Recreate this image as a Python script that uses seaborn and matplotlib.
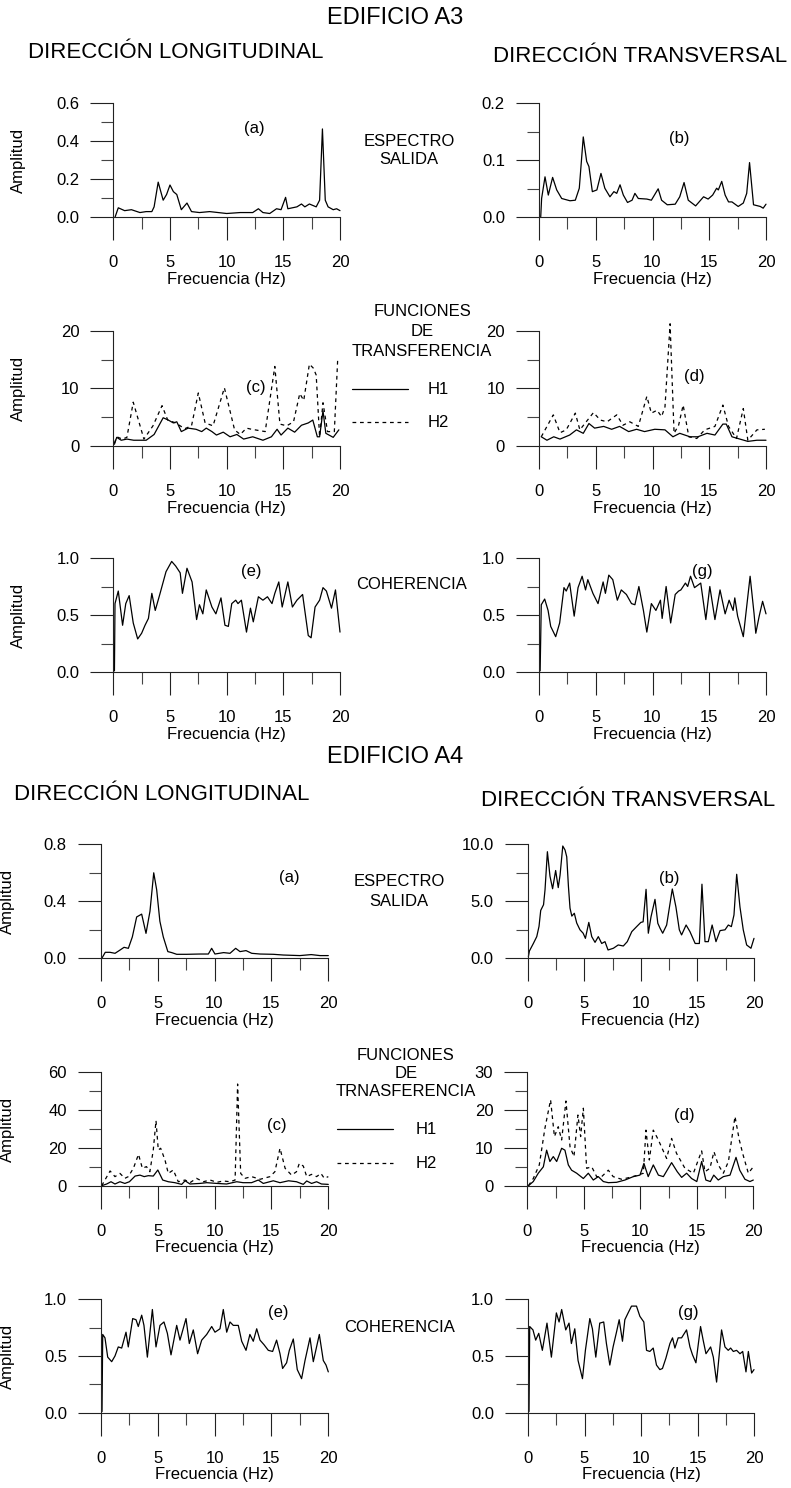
import matplotlib
matplotlib.use("Agg")
import matplotlib.pyplot as plt
from matplotlib.lines import Line2D
from matplotlib.ticker import MultipleLocator, FormatStrFormatter
import seaborn as sns
import pandas as pd

# ---------------- data (frequency Hz, amplitude) ----------------
a3_a = [(0.15,0.0),(0.44,0.05),(1.0,0.035),(1.6,0.04),(2.35,0.025),(2.9,0.03),(3.4,0.03),(3.6,0.055),
        (3.96,0.185),(4.4,0.09),(4.7,0.12),(5.0,0.17),(5.3,0.135),(5.6,0.12),(6.0,0.04),(6.5,0.075),
        (6.9,0.03),(7.6,0.025),(8.5,0.03),(10.0,0.02),(11.2,0.025),(12.3,0.025),(12.8,0.045),(13.2,0.025),
        (13.8,0.02),(14.4,0.045),(14.8,0.04),(15.2,0.105),(15.4,0.045),(16.2,0.055),(16.6,0.07),(16.9,0.055),
        (17.3,0.07),(17.9,0.055),(18.2,0.09),(18.45,0.465),(18.7,0.09),(18.95,0.055),(19.4,0.04),(19.7,0.045),
        (20.0,0.035)]
a3_b = [(0.15,0.0),(0.23,0.033),(0.53,0.071),(0.82,0.039),(1.2,0.07),(1.56,0.048),(2.0,0.033),(2.73,0.029),
        (3.2,0.03),(3.55,0.051),(3.9,0.141),(4.2,0.098),(4.4,0.089),(4.7,0.045),(5.1,0.048),(5.46,0.077),
        (5.8,0.051),(6.25,0.036),(6.6,0.045),(6.85,0.042),(7.14,0.057),(7.43,0.039),(7.8,0.026),(8.2,0.03),
        (8.45,0.042),(8.75,0.033),(9.5,0.032),(9.9,0.03),(10.5,0.05),(10.8,0.03),(11.3,0.022),(12.0,0.023),
        (12.4,0.036),(12.78,0.061),(13.15,0.03),(13.8,0.02),(14.5,0.036),(14.9,0.032),(15.3,0.039),(15.65,0.051),
        (15.8,0.048),(16.1,0.063),(16.4,0.039),(16.7,0.027),(17.0,0.027),(17.55,0.019),(18.0,0.025),(18.3,0.042),
        (18.55,0.096),(18.9,0.022),(19.5,0.019),(19.75,0.016),(20.0,0.023)]
a3_c_h1 = [(0.1,0.3),(0.3,1.5),(0.7,1.0),(1.2,1.2),(1.8,1.0),(2.9,1.0),(3.6,2.0),(4.4,4.9),(4.85,4.5),
           (5.3,4.0),(5.6,4.2),(6.0,2.5),(6.6,3.1),(7.3,2.9),(7.8,2.5),(8.2,3.1),(8.7,2.5),(9.1,1.9),
           (9.7,2.4),(10.3,1.6),(10.9,2.0),(11.5,1.2),(12.3,1.6),(13.2,1.0),(13.95,1.6),(14.45,2.9),
           (14.8,1.9),(15.4,3.1),(16.0,2.4),(16.6,3.6),(17.2,4.0),(17.6,4.5),(18.0,1.6),(18.2,1.6),
           (18.5,6.1),(18.75,2.2),(19.4,1.5),(19.9,2.8)]
a3_c_h2 = [(0.1,0.5),(0.3,1.6),(0.8,1.2),(1.2,1.5),(1.76,7.6),(2.7,1.2),(3.5,3.5),(4.3,7.0),(4.8,4.5),
           (5.5,4.0),(6.3,3.0),(6.9,3.5),(7.5,9.2),(8.1,4.0),(8.8,3.5),(9.8,10.1),(10.7,2.8),(11.2,2.0),
           (11.75,3.1),(12.2,2.9),(13.4,2.5),(14.25,13.8),(14.7,3.8),(15.3,3.5),(15.9,4.2),(16.45,9.1),
           (16.8,7.9),(17.3,14.2),(17.65,13.5),(17.9,12.3),(18.2,1.6),(18.5,7.5),(18.9,2.5),(19.5,2.5),
           (19.8,15.2)]
a3_d_h1 = [(0.2,1.6),(0.7,1.0),(1.3,1.6),(1.85,1.2),(2.7,1.9),(3.3,2.8),(3.9,2.2),(4.4,3.9),(4.9,3.1),
           (5.7,3.4),(6.4,2.9),(7.1,3.4),(7.9,2.5),(8.6,2.9),(9.3,2.5),(10.2,2.9),(11.1,2.8),(11.8,1.6),
           (12.4,2.2),(13.3,1.6),(14.0,1.6),(14.8,2.2),(15.5,1.9),(16.2,3.8),(16.5,3.8),(17.0,1.6),
           (17.7,1.2),(18.4,0.8),(19.2,1.0),(20.0,1.0)]
a3_d_h2 = [(0.2,1.6),(1.26,5.4),(1.85,2.3),(2.4,2.8),(3.2,5.7),(3.6,2.8),(4.8,5.8),(5.4,4.5),(6.0,4.2),
           (6.85,5.4),(7.4,3.6),(8.0,4.2),(8.75,3.4),(9.5,8.6),(9.9,5.7),(10.4,6.2),(10.8,5.1),(11.1,6.8),
           (11.55,21.2),(11.9,2.2),(12.3,3.6),(12.7,7.1),(13.2,1.6),(13.9,1.3),(14.6,2.8),(15.5,3.4),
           (16.2,7.1),(16.7,3.4),(17.4,1.3),(18.0,6.5),(18.4,1.0),(19.2,2.8),(19.9,2.9)]
a3_e = [(0.1,0.01),(0.15,0.6),(0.44,0.71),(0.82,0.41),(1.1,0.6),(1.4,0.67),(1.76,0.43),(2.15,0.29),
        (2.5,0.34),(2.8,0.41),(3.1,0.47),(3.4,0.69),(3.7,0.54),(4.1,0.68),(4.65,0.88),(5.15,0.97),
        (5.5,0.93),(5.9,0.87),(6.1,0.69),(6.5,0.91),(6.95,0.79),(7.35,0.46),(7.6,0.59),(7.9,0.51),
        (8.2,0.72),(8.7,0.57),(9.05,0.51),(9.5,0.65),(9.85,0.41),(10.15,0.40),(10.45,0.6),(10.8,0.63),
        (11.0,0.6),(11.3,0.63),(11.75,0.35),(12.1,0.56),(12.35,0.44),(12.8,0.66),(13.2,0.63),(13.6,0.66),
        (14.0,0.6),(14.25,0.69),(14.6,0.79),(14.9,0.57),(15.4,0.79),(15.8,0.57),(16.2,0.63),(16.7,0.68),
        (17.2,0.32),(17.45,0.30),(17.8,0.57),(18.2,0.63),(18.5,0.74),(18.8,0.71),(19.25,0.56),(19.6,0.72),
        (20.0,0.35)]
a3_g = [(0.1,0.01),(0.2,0.59),(0.5,0.64),(0.8,0.54),(1.03,0.4),(1.47,0.31),(1.82,0.43),(2.2,0.74),
        (2.4,0.71),(2.7,0.78),(3.1,0.49),(3.44,0.74),(3.8,0.84),(4.1,0.72),(4.3,0.81),(4.75,0.69),
        (5.2,0.6),(5.65,0.79),(5.85,0.69),(6.15,0.85),(6.5,0.81),(6.9,0.63),(7.25,0.72),(7.7,0.68),
        (8.15,0.6),(8.45,0.59),(8.8,0.75),(9.2,0.54),(9.5,0.35),(9.9,0.6),(10.3,0.54),(10.7,0.63),
        (10.85,0.47),(11.2,0.75),(11.6,0.43),(12.0,0.68),(12.3,0.71),(12.5,0.72),(12.9,0.78),(13.1,0.75),
        (13.35,0.84),(13.7,0.74),(14.25,0.78),(14.7,0.46),(15.05,0.75),(15.5,0.46),(15.95,0.72),(16.4,0.51),
        (16.75,0.63),(17.1,0.54),(17.25,0.65),(17.5,0.49),(18.0,0.31),(18.6,0.84),(18.95,0.51),(19.1,0.34),
        (19.4,0.49),(19.7,0.62),(20.0,0.51)]

a4_a = [(0.1,0.0),(0.4,0.042),(0.82,0.042),(1.26,0.035),(1.7,0.058),(2.05,0.077),(2.43,0.07),(2.78,0.15),
        (3.16,0.29),(3.6,0.31),(3.98,0.175),(4.33,0.33),(4.66,0.6),(4.92,0.48),(5.2,0.26),(5.5,0.15),
        (5.9,0.047),(6.24,0.04),(6.68,0.028),(7.55,0.028),(8.7,0.03),(9.46,0.03),(9.75,0.07),(10.04,0.03),
        (10.8,0.04),(11.36,0.035),(11.86,0.07),(12.24,0.047),(12.77,0.054),(13.27,0.035),(14.0,0.03),
        (15.17,0.028),(16.05,0.023),(17.5,0.019),(18.5,0.026),(19.27,0.019),(20.0,0.019)]
a4_b = [(0.06,0.15),(0.15,0.64),(0.5,1.3),(0.8,1.9),(1.0,2.8),(1.15,4.2),(1.4,4.7),(1.53,6.0),(1.74,9.35),
        (1.97,7.2),(2.2,6.1),(2.47,7.7),(2.7,6.2),(2.86,7.3),(3.1,9.85),(3.3,9.5),(3.45,8.9),(3.6,6.3),
        (3.74,4.4),(3.9,3.7),(4.12,3.95),(4.33,3.1),(4.62,2.5),(4.9,2.2),(5.1,1.75),(5.4,3.15),(5.66,1.9),
        (5.95,1.4),(6.24,1.9),(6.54,1.3),(6.83,1.46),(7.1,0.73),(7.57,0.88),(8.0,1.17),(8.45,1.08),(8.8,1.46),
        (9.2,2.34),(9.63,2.78),(10.0,3.15),(10.2,3.2),(10.46,6.05),(10.66,2.2),(10.9,3.65),(11.25,5.17),
        (11.5,3.07),(11.7,2.63),(11.93,2.2),(12.28,2.92),(12.78,6.08),(13.1,4.5),(13.4,2.5),(13.6,2.05),
        (14.0,2.92),(14.34,2.34),(14.8,1.3),(15.17,1.3),(15.4,6.5),(15.67,1.46),(15.96,1.46),(16.3,2.92),
        (16.64,1.46),(17.0,2.43),(17.44,2.5),(17.73,2.92),(18.0,2.78),(18.23,3.8),(18.47,7.37),(18.76,4.5),
        (19.05,2.5),(19.35,1.17),(19.73,0.88),(20.0,1.75)]
a4_c_h1 = [(0.06,0.0),(0.5,0.9),(0.88,2.1),(1.23,0.9),(1.67,2.1),(2.1,1.2),(2.5,2.1),(3.0,5.1),(3.43,5.6),
           (3.8,4.8),(4.16,5.3),(4.6,5.1),(5.0,8.3),(5.43,3.0),(5.92,2.1),(6.5,1.6),(7.1,0.7),(7.4,2.6),
           (7.83,0.9),(8.7,1.2),(9.3,1.6),(10.2,1.2),(11.05,0.9),(11.94,2.1),(12.5,1.6),(13.25,1.6),
           (13.84,3.0),(14.28,1.2),(15.16,2.6),(15.75,1.6),(16.5,2.6),(17.2,2.1),(17.8,0.7),(18.1,2.5),
           (18.53,1.2),(18.97,2.1),(19.4,0.9),(20.0,0.7)]
a4_c_h2 = [(0.06,0.0),(0.8,7.8),(1.23,4.8),(1.67,6.5),(2.1,3.9),(2.4,4.8),(2.85,9.2),(3.3,16.6),(3.64,9.2),
           (4.0,10.1),(4.3,7.4),(4.6,18.9),(4.84,34.4),(5.04,18.9),(5.25,19.8),(5.63,13.6),(5.92,6.5),
           (6.36,8.3),(6.8,2.1),(7.4,3.0),(7.83,1.6),(8.4,3.9),(9.0,2.1),(9.6,3.0),(10.2,1.8),(10.76,2.5),
           (11.35,2.1),(11.8,3.0),(12.02,53.8),(12.29,6.5),(12.67,3.9),(13.25,4.8),(14.0,3.4),(14.87,4.8),
           (15.3,7.4),(15.75,19.8),(16.2,9.2),(16.77,5.6),(17.2,7.4),(17.45,11.8),(17.8,10.4),(18.1,4.8),
           (18.53,6.0),(18.97,4.8),(19.35,6.5),(19.65,3.9),(20.0,4.8)]
a4_d_h1 = [(0.1,0.0),(0.53,1.1),(0.97,3.3),(1.42,5.0),(1.71,9.4),(2.0,6.4),(2.3,7.7),(2.6,6.4),(3.04,9.9),
           (3.33,9.4),(3.63,5.5),(3.92,4.1),(4.37,3.3),(4.96,1.9),(5.4,3.3),(5.84,1.5),(6.28,2.4),(6.73,1.1),
           (7.17,0.8),(7.9,0.9),(8.64,1.5),(9.38,2.4),(9.97,2.8),(10.32,5.9),(10.7,2.4),(11.15,5.5),(11.6,2.8),
           (12.04,2.4),(12.77,6.1),(13.27,3.7),(13.66,2.2),(14.1,3.3),(14.54,1.9),(15.0,1.1),(15.43,6.4),
           (15.8,1.5),(16.2,1.1),(16.5,2.8),(16.9,1.5),(17.35,2.4),(17.94,2.8),(18.47,7.5),(18.8,4.1),
           (19.26,1.7),(19.7,1.1),(20.0,1.5)]
a4_d_h2 = [(0.1,0.0),(0.53,1.9),(1.06,5.5),(1.56,15.2),(2.06,22.7),(2.4,13.0),(2.74,15.6),(3.04,12.1),
           (3.42,22.4),(3.78,10.3),(4.13,7.7),(4.48,18.7),(4.72,13.0),(4.96,20.5),(5.25,4.6),(5.7,5.0),
           (6.14,2.4),(6.58,2.4),(7.17,4.1),(7.6,2.4),(8.35,1.7),(9.08,2.2),(9.8,2.8),(10.27,3.3),(10.5,14.7),
           (10.8,6.8),(11.15,14.7),(11.6,12.1),(12.33,7.2),(12.77,12.5),(13.2,8.6),(13.95,4.6),(14.7,3.3),
           (15.13,6.8),(15.43,9.2),(15.72,3.7),(16.16,4.6),(16.52,9.0),(16.9,5.5),(17.35,3.3),(17.8,6.4),
           (18.38,18.3),(18.76,12.1),(19.1,8.1),(19.56,3.3),(20.0,5.0)]
a4_e = [(0.09,0.01),(0.15,0.69),(0.35,0.66),(0.59,0.49),(0.94,0.45),(1.23,0.5),(1.52,0.58),(1.82,0.57),
        (2.2,0.71),(2.4,0.58),(2.79,0.83),(3.08,0.82),(3.28,0.76),(3.58,0.86),(3.78,0.77),(4.08,0.49),
        (4.52,0.91),(4.84,0.58),(5.19,0.77),(5.54,0.8),(5.84,0.7),(6.16,0.51),(6.66,0.77),(6.95,0.64),
        (7.48,0.83),(7.77,0.61),(8.12,0.73),(8.5,0.52),(8.86,0.64),(9.3,0.69),(9.74,0.76),(10.03,0.71),
        (10.47,0.74),(10.76,0.91),(11.06,0.71),(11.35,0.8),(11.64,0.77),(12.08,0.77),(12.38,0.63),
        (12.76,0.55),(13.1,0.69),(13.4,0.63),(13.7,0.74),(13.99,0.64),(14.34,0.6),(14.72,0.55),(15.1,0.54),
        (15.45,0.64),(15.75,0.52),(15.98,0.39),(16.33,0.44),(16.57,0.55),(16.92,0.65),(17.27,0.38),
        (17.65,0.3),(17.95,0.46),(18.39,0.66),(18.68,0.45),(19.21,0.69),(19.56,0.46),(19.8,0.42),(20.0,0.36)]
a4_g = [(0.09,0.01),(0.15,0.76),(0.44,0.73),(0.68,0.64),(0.95,0.7),(1.27,0.55),(1.68,0.79),(2.07,0.49),
        (2.51,0.88),(2.75,0.8),(2.98,0.91),(3.34,0.73),(3.63,0.79),(3.84,0.61),(4.14,0.74),(4.43,0.46),
        (4.82,0.3),(5.08,0.55),(5.47,0.83),(5.7,0.74),(6.0,0.49),(6.35,0.79),(6.7,0.8),(6.94,0.61),
        (7.24,0.42),(7.53,0.58),(7.83,0.71),(8.07,0.82),(8.36,0.63),(8.57,0.82),(8.86,0.88),(9.16,0.94),
        (9.6,0.94),(9.9,0.85),(10.25,0.8),(10.49,0.55),(10.78,0.54),(11.08,0.57),(11.37,0.42),(11.67,0.38),
        (11.9,0.39),(12.2,0.48),(12.56,0.61),(12.79,0.66),(13.0,0.57),(13.29,0.66),(13.59,0.66),(14.03,0.73),
        (14.33,0.58),(14.56,0.51),(14.86,0.44),(15.27,0.76),(15.5,0.64),(15.75,0.52),(16.16,0.58),(16.4,0.49),
        (16.69,0.27),(17.13,0.73),(17.43,0.58),(17.72,0.55),(17.93,0.57),(18.17,0.54),(18.46,0.55),
        (18.76,0.52),(19.0,0.54),(19.29,0.36),(19.5,0.54),(19.79,0.35),(20.0,0.38)]

x_label = "Frecuencia (Hz)"
y_label = "Amplitud"

# ---------------- figure ----------------
sns.set_style("ticks")
plt.rcParams['font.family'] = ['Liberation Sans', 'DejaVu Sans']
plt.rcParams['text.color'] = 'black'
plt.rcParams['axes.labelcolor'] = 'black'
W, H = 791, 1488
fig = plt.figure(figsize=(W / 100, H / 100), dpi=100)
fig.patch.set_facecolor("white")


def px_axes(left, top, right, bottom):
    return fig.add_axes([left / W, 1 - bottom / H, (right - left) / W, (bottom - top) / H])


def draw(ax, pairs, dashed=False):
    df = pd.DataFrame(pairs, columns=["f", "a"])
    kw = dict(linestyle=(0, (3, 3))) if dashed else {}
    sns.lineplot(data=df, x="f", y="a", ax=ax, color="black", lw=0.9, sort=False,
                 estimator=None, clip_on=False, **kw)


def style(ax, ymax, ymaj, ymin, fmt, ylabel=False, ylab_x=-0.42):
    ax.set_xlim(0, 20)
    ax.set_ylim(0, ymax)
    ax.xaxis.set_major_locator(MultipleLocator(5))
    ax.xaxis.set_minor_locator(MultipleLocator(2.5))
    ax.yaxis.set_major_locator(MultipleLocator(ymaj))
    ax.yaxis.set_minor_locator(MultipleLocator(ymin))
    ax.yaxis.set_major_formatter(FormatStrFormatter(fmt))
    for s in ["top", "right"]:
        ax.spines[s].set_visible(False)
    for s in ["left", "bottom"]:
        ax.spines[s].set_linewidth(0.8)
        ax.spines[s].set_color("#222222")
    ax.tick_params(which="major", length=16.5, width=0.8, direction="out", labelsize=12,
                   color="#222222", labelcolor="black")
    ax.tick_params(which="minor", length=8.3, width=0.8, direction="out", color="#444444")
    ax.tick_params(axis="y", which="major", pad=8)
    ax.tick_params(axis="x", which="major", pad=11)
    ax.set_xlabel(x_label, fontsize=12, labelpad=1)
    if ylabel:
        ax.set_ylabel(y_label, fontsize=12, va="center")
        ax.yaxis.set_label_coords(ylab_x, 0.5)
    else:
        ax.set_ylabel("")
    ax.set_facecolor("none")


def ftext(x, y, s, size=12, **kw):
    fig.text(x / W, 1 - y / H, s, fontsize=size, ha="center", va="center", **kw)


def legend_lines(x0, x1, y1, y2, xt):
    fig.add_artist(Line2D([x0 / W, x1 / W], [1 - y1 / H] * 2, color="black", lw=0.9))
    fig.add_artist(Line2D([x0 / W, x1 / W], [1 - y2 / H] * 2, color="black", lw=0.9,
                          linestyle=(0, (3, 3))))
    ftext(xt, y1, "H1")
    ftext(xt, y2, "H2")


def tag(ax, x, y, s):
    ax.text(x, y, s, fontsize=12, ha="center", va="center")


# ===== EDIFICIO A3 =====
ax = px_axes(113.3, 103.3, 340, 217.3)
draw(ax, a3_a); style(ax, 0.6, 0.2, 0.1, "%.1f", True)
tag(ax, 12.4, 0.47, "(a)")

ax = px_axes(539, 103.3, 766, 217.3)
draw(ax, a3_b); style(ax, 0.2, 0.1, 0.05, "%.1f")
tag(ax, 12.4, 0.139, "(b)")

ax = px_axes(113.3, 330.7, 340, 446)
draw(ax, a3_c_h1); draw(ax, a3_c_h2, True); style(ax, 20, 10, 5, "%d", True)
tag(ax, 12.6, 10.2, "(c)")

ax = px_axes(539, 330.7, 766, 446)
draw(ax, a3_d_h1); draw(ax, a3_d_h2, True); style(ax, 20, 10, 5, "%d")
tag(ax, 13.7, 12.0, "(d)")

ax = px_axes(113.3, 558, 340, 672)
draw(ax, a3_e); style(ax, 1.0, 0.5, 0.25, "%.1f", True)
tag(ax, 12.2, 0.88, "(e)")

ax = px_axes(539, 558, 766, 672)
draw(ax, a3_g); style(ax, 1.0, 0.5, 0.25, "%.1f")
tag(ax, 14.4, 0.88, "(g)")

ftext(395, 18, "EDIFICIO A3", size=17)
ftext(176, 52, "DIRECCIÓN LONGITUDINAL", size=16)
ftext(640, 57, "DIRECCIÓN TRANSVERSAL", size=16)
ftext(409, 142, "ESPECTRO", size=12)
ftext(409, 160, "SALIDA", size=12)
ftext(422, 312, "FUNCIONES", size=12)
ftext(422, 332, "DE", size=12)
ftext(422, 352, "TRANSFERENCIA", size=12)
legend_lines(352, 408, 389, 422, 438)
ftext(412, 585, "COHERENCIA", size=12)

# ===== EDIFICIO A4 =====
ax = px_axes(100.7, 844.3, 328.3, 958.3)
draw(ax, a4_a); style(ax, 0.8, 0.4, 0.2, "%.1f", True, -0.41)
tag(ax, 16.6, 0.57, "(a)")

ax = px_axes(527.7, 844.3, 754, 958.3)
draw(ax, a4_b); style(ax, 10.0, 5.0, 2.5, "%.1f")
tag(ax, 12.5, 7.04, "(b)")

ax = px_axes(101, 1072.3, 328.3, 1185.7)
draw(ax, a4_c_h1); draw(ax, a4_c_h2, True); style(ax, 60, 20, 10, "%d", True, -0.41)
tag(ax, 15.5, 32, "(c)")

ax = px_axes(527.3, 1072.3, 753.3, 1185.7)
draw(ax, a4_d_h1); draw(ax, a4_d_h2, True); style(ax, 30, 10, 5, "%d")
tag(ax, 13.9, 18.7, "(d)")

ax = px_axes(101, 1299.3, 328.3, 1412.7)
draw(ax, a4_e); style(ax, 1.0, 0.5, 0.25, "%.1f", True, -0.41)
tag(ax, 15.6, 0.88, "(e)")

ax = px_axes(528, 1299.3, 754, 1412.7)
draw(ax, a4_g); style(ax, 1.0, 0.5, 0.25, "%.1f")
tag(ax, 14.2, 0.88, "(g)")

ftext(395, 757, "EDIFICIO A4", size=17)
ftext(162, 795, "DIRECCIÓN LONGITUDINAL", size=16)
ftext(628, 800, "DIRECCIÓN TRANSVERSAL", size=16)
ftext(399, 882, "ESPECTRO", size=12)
ftext(399, 902, "SALIDA", size=12)
ftext(406, 1055, "FUNCIONES", size=12)
ftext(406, 1073, "DE", size=12)
ftext(406, 1092, "TRNASFERENCIA", size=12)
legend_lines(337, 393, 1129, 1163, 426)
ftext(400, 1327, "COHERENCIA", size=12)

fig.savefig("out.png", dpi=100)
